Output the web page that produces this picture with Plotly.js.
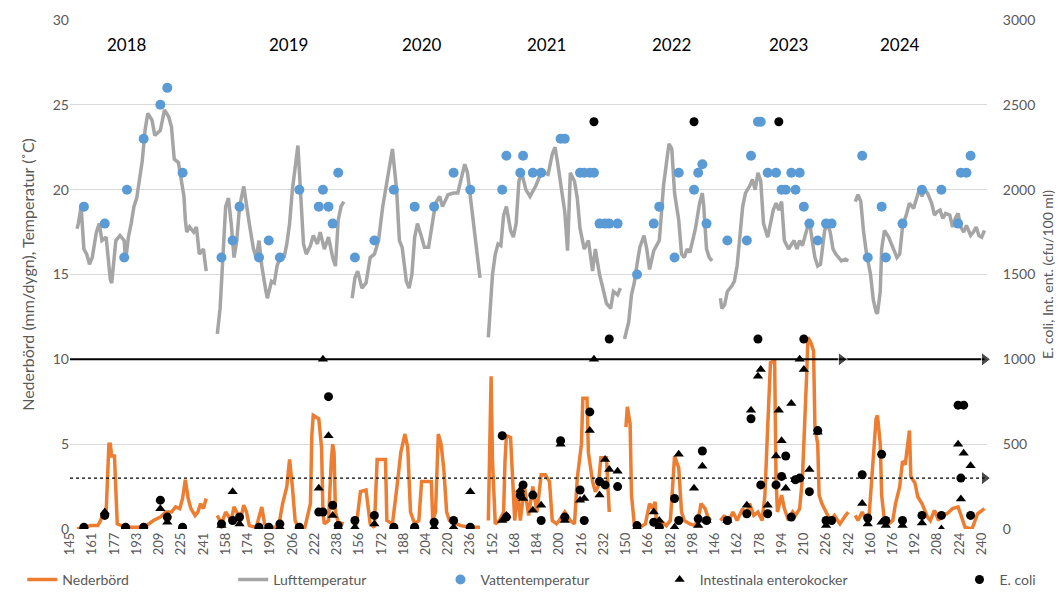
<!DOCTYPE html>
<html><head><meta charset="utf-8">
<script src="https://cdn.plot.ly/plotly-3.0.1.min.js"></script>
<style>body{margin:0;background:#fff}#chart{width:1064px;height:592px}</style>
</head><body><div id="chart"></div>
<script>
// ---- tick labels (day of year) per year ----
const years = [2018, 2019, 2020, 2021, 2022, 2023, 2024];
const ticks2018 = [145,161,177,193,209,225,241];
const ticks2019 = [158,174,190,206,222,238];
const ticks2020 = [156,172,188,204,220,236];
const ticks2021 = [152,168,184,200,216,232];
const ticks2022 = [150,166,182,198];
const ticks2023 = [146,162,178,194,210,226,242];
const ticks2024 = [160,176,192,208,224,240];

// ---- Nederbörd (mm/dygn) ----
const pr2018d = [150,155,160,165,167,169,171,172,173,174,175,177,178,179,185,195,200,205,210,214,218,221,224,226,228,230,232,235,237,239,241,243];
const pr2018v = [0,0.1,0.2,0.2,0.5,1.0,1.0,3.0,5.0,5.0,4.3,4.3,2.0,0.3,0.1,0.1,0.2,0.5,0.7,1.0,1.0,1.3,1.2,1.8,2.9,1.8,1.2,0.8,1.0,1.5,1.2,1.8];
const pr2019d = [152,155,158,162,164,166,168,171,173,175,180,184,186,190,196,199,202,204,206,208,210,215,219,220,221,223,225,227,228,229,232,234,235,236,237,239,243];
const pr2019v = [0.8,0.3,1.0,0.5,1.3,1.0,0.3,1.4,1.0,0.2,0.1,1.3,0.3,0.1,0.1,1.5,2.5,4.1,2.5,0.5,0.1,0.1,1.5,5.5,6.7,6.6,6.5,4.8,1.0,0.3,0.5,4.0,5.0,4.5,1.0,0.4,0.3];
const pr2020d = [151,154,157,161,164,167,169,175,176,180,184,186,189,191,193,196,199,201,208,209,211,213,215,217,219,221,229,236,243];
const pr2020v = [0.5,0.2,2.2,2.3,0.3,0.1,4.1,4.1,0.5,0.3,3.0,4.5,5.6,4.8,1.0,0.3,0.5,2.8,2.8,0.5,1.0,5.6,5.0,3.5,1.0,0.5,0.2,0.1,0.1];
const pr2021d = [149,151,152,154,157,160,161,162,165,167,168,170,172,175,178,181,184,187,190,193,195,198,200,204,208,211,213,216,217,220,221,224,226,228,230,234,236];
const pr2021v = [0.5,9.0,4.0,0.3,0.5,1.0,4.0,5.5,5.4,2.0,0.5,2.3,0.5,2.5,0.8,2.5,1.0,3.2,3.2,2.8,0.5,0.3,0.5,1.0,0.5,0.3,3.0,5.0,7.7,7.7,4.5,2.8,2.2,2.5,4.2,4.2,1.0];
const pr2022d = [150,151,153,154,156,160,164,167,169,171,172,175,179,182,184,185,188,190,192,196,200,203,204,207,209,211];
const pr2022v = [6.0,7.2,6.2,2.0,0.3,0.1,0.3,1.5,1.2,1.6,0.3,0.5,0.2,0.5,3.0,4.3,3.6,1.0,0.5,0.3,0.2,1.0,1.5,1.2,0.7,0.5];
const pr2023d = [150,153,155,159,162,166,168,171,174,177,180,182,184,186,189,190,191,194,196,199,202,204,207,209,212,213,215,217,218,220,221,223,226,229,232,236,240,242];
const pr2023v = [0.5,0.8,0.3,1.0,0.5,1.2,0.7,1.5,0.8,1.0,0.5,2.0,6.0,9.8,9.9,3.0,1.0,2.0,1.2,0.5,1.0,0.8,1.2,3.0,9.0,11.3,11.0,10.5,6.0,5.0,2.0,1.5,1.0,0.5,0.8,0.3,0.8,1.0];
const pr2024d = [149,151,154,157,159,161,163,164,165,167,168,170,173,176,178,181,183,185,186,188,189,192,194,197,201,203,206,209,211,215,219,223,226,228,233,237,242];
const pr2024v = [0.8,0.5,1.0,0.5,0.8,3.0,5.5,6.5,6.7,5.0,2.0,0.5,0.3,0.5,1.5,2.5,4.0,3.8,4.5,5.8,3.1,2.7,1.9,1.5,0.7,0.5,1.1,0.5,0.8,0.9,1.2,1.3,0.6,0.1,0.0,0.9,1.2];

// ---- Lufttemperatur (°C) ----
const air2018d = [150,151,153,155,157,159,161,164,166,168,171,173,174,175,178,181,184,185,187,189,191,193,195,197,199,201,204,206,210,213,216,218,220,223,225,227,228,229,231,234,236,238,241,243];
const air2018v = [17.7,18.0,19.0,16.5,16.2,15.6,16.0,17.5,18.0,17.0,17.2,15.5,14.7,14.5,17.0,17.3,17.0,15.8,17.2,18.0,19.0,19.5,20.8,21.7,23.5,24.5,24.1,23.2,23.5,24.7,24.3,23.7,21.8,21.6,20.6,19.6,18.2,17.5,17.8,17.5,17.8,16.2,16.5,15.2];
const air2019d = [152,154,158,160,162,164,166,168,171,173,175,178,180,182,184,187,188,191,193,195,198,200,202,204,206,210,212,214,216,219,221,224,226,229,232,235,237,239,241,243];
const air2019v = [11.5,13.0,19.0,19.5,18.0,16.0,17.0,19.0,20.2,19.0,18.0,16.5,16.0,17.0,15.5,14.0,13.6,14.6,14.5,15.5,16.2,16.0,16.8,18.0,20.0,22.6,20.0,16.8,16.2,16.7,17.3,16.8,17.5,16.5,17.2,16.0,15.5,18.2,19.0,19.3];
const air2020d = [151,153,155,158,161,164,167,170,173,175,178,180,183,185,187,190,192,194,196,198,201,203,206,208,211,214,216,220,224,227,232,234,238,241,243];
const air2020v = [13.6,14.8,15.2,14.2,14.5,16.0,16.2,17.0,19.0,20.0,21.3,22.4,20.0,17.0,16.6,14.6,14.2,15.0,17.2,18.0,17.2,16.6,16.6,17.6,19.2,19.6,19.0,19.7,19.8,19.8,21.5,21.0,18.2,16.0,14.8];
const air2021d = [149,150,152,154,156,158,160,162,165,167,169,171,173,176,179,183,186,189,192,195,197,199,202,204,206,208,211,213,215,218,221,224,226,229,232,234,237,239,242,244];
const air2021v = [11.3,12.5,15.0,16.2,16.8,16.7,18.5,19.0,17.6,17.2,18.0,20.5,21.0,20.0,19.6,20.2,20.8,21.0,20.9,22.1,22.5,21.5,19.8,18.7,16.4,21.0,20.5,19.5,17.7,16.5,17.0,15.2,16.5,15.0,14.0,13.3,13.0,14.0,13.8,14.2];
const air2022d = [149,152,154,156,158,160,163,165,167,170,172,174,175,177,180,181,183,184,185,188,190,192,194,196,198,200,203,205,206,208,210,212];
const air2022v = [11.2,12.2,13.8,14.5,15.6,16.6,17.3,16.5,15.3,16.4,16.7,17.0,18.0,20.2,22.1,22.7,22.4,21.0,19.8,18.2,16.2,16.0,16.5,16.3,17.0,17.7,19.2,19.8,19.0,16.5,16.0,15.8];
const air2023d = [150,151,153,155,158,160,162,164,166,168,171,173,175,177,179,181,184,186,188,190,192,194,196,199,201,203,205,207,209,212,214,216,218,220,222,225,227,229,231,233,235,237,240,242];
const air2023v = [13.6,13.0,13.2,14.0,14.3,14.6,15.5,17.5,19.0,19.8,20.2,20.6,20.0,21.0,20.5,18.0,17.2,18.0,18.8,19.2,18.8,19.3,17.0,16.5,16.8,17.0,16.5,17.0,16.7,17.5,18.2,17.0,16.0,15.5,15.6,17.6,18.0,17.5,16.5,16.2,16.0,15.8,15.9,15.8];
const air2024d = [149,151,153,155,157,160,162,164,165,167,168,170,173,175,177,179,181,183,186,188,191,193,195,197,199,201,204,206,208,210,212,214,217,219,221,223,225,227,229,232,234,236,238,240,242];
const air2024v = [19.3,19.7,19.3,17.5,16.3,15.0,13.5,12.8,12.7,14.0,16.5,17.6,17.2,16.8,16.3,16.0,16.2,17.8,18.6,19.2,18.9,19.5,20.0,19.6,20.0,19.8,19.2,18.5,18.7,18.8,18.3,18.6,18.5,17.8,18.3,18.6,17.8,17.5,17.9,17.3,17.5,17.8,17.3,17.2,17.6];

// ---- Vattentemperatur (°C) ----
const wt2018d = [155,170,184,186,198,210,215,226];
const wt2018v = [19,18,16,20,23,25,26,21];
const wt2019d = [155,163,168,182,189,197,211,225,228,232,235,239];
const wt2019v = [16,17,19,16,17,16,20,19,20,19,18,21];
const wt2020d = [153,167,181,196,210,224,236];
const wt2020v = [16,17,20,19,19,21,20];
const wt2021d = [159,162,172,174,181,187,201,204,215,218,222,225,229,233,236,242];
const wt2021v = [20,22,21,22,21,21,23,23,21,21,21,21,18,18,18,18];
const wt2022d = [158,170,174,185,188,199,202,205,208];
const wt2022v = [15,18,19,16,21,20,21,21.5,18];
const wt2023d = [155,169,172,177,179,184,190,194,197,201,204,207,210,214,220,226,230];
const wt2023v = [17,17,22,24,24,21,21,20,20,21,20,21,19,18,17,18,18];
const wt2024d = [154,158,168,171,183,197,211,223,225,229,232];
const wt2024v = [22,16,19,16,18,20,20,18,21,21,22];

// ---- Bakterier (cfu/100 ml) ----
const bac2018d = [155,170,185,198,210,215,226];
const ec2018  = [10,80,10,10,170,70,10];
const ent2018 = [10,100,10,10,120,40,10];
const bac2019d = [155,163,168,182,189,197,211,225,228,232,235,239];
const ec2019  = [30,50,70,10,10,30,10,100,100,780,140,20];
const ent2019 = [20,220,30,10,10,10,10,240,1000,550,80,10];
const bac2020d = [153,167,181,196,210,224,236];
const ec2020  = [50,80,10,10,40,50,10];
const ent2020 = [10,30,10,10,10,10,220];
const bac2021d = [159,162,172,174,181,187,201,204,215,218,222,225,229,233,236,242];
const ec2021  = [550,70,200,260,200,50,520,70,230,50,690,2400,280,260,1120,250];
const ent2021 = [50,80,230,180,110,140,500,50,170,180,580,1000,200,410,350,340];
const bac2022d = [158,170,174,185,188,199,202,205,208];
const ec2022  = [20,40,10,180,50,2400,60,460,50];
const ent2022 = [10,100,50,10,440,240,20,370,50];
const bac2023d = [155,169,172,177,179,184,190,192,194,197,201,204,207,210,214,220,226,230];
const ec2023  = [50,90,650,1120,260,90,260,2400,310,430,70,290,300,1120,220,580,50,50];
const ent2023 = [50,140,700,900,940,140,430,700,520,240,740,290,1000,940,350,570,20,null];
const bac2024d = [154,158,168,171,183,197,211,223,225,227,232];
const ec2024  = [320,65,440,50,50,80,80,730,300,730,80];
const ent2024 = [150,30,40,20,20,35,0,500,177,446,373];

// ---- gränsvärden (cfu/100 ml) ----
const limitHighYears = [2018, 2023, 2024];
const limitHighDays  = [145, 237, 242];
const limitHighValue = 1000;
const limitLowYears = [2018, 2024];
const limitLowDays  = [145, 242];
const limitLowValue = 300;

const yearLabelDays = [186, 203, 201, 191, 183, 199, 181];

// ---------- build ----------
const tickSets = [ticks2018,ticks2019,ticks2020,ticks2021,ticks2022,ticks2023,ticks2024];
const offsets = {}; const tickvals = []; const ticktext = [];
let k = 0;
years.forEach((yr,i)=>{
  offsets[yr] = 16*k - tickSets[i][0];
  tickSets[i].forEach(t=>{ tickvals.push(t+offsets[yr]); ticktext.push(String(t)); k++; });
});
function join(dArr, vArr){
  const x=[], y=[];
  years.forEach((yr,i)=>{
    if(i>0){ x.push(null); y.push(null); }
    dArr[i].forEach((d,j)=>{ x.push(d+offsets[yr]); y.push(vArr[i][j]); });
  });
  return {x,y};
}
const pr  = join([pr2018d,pr2019d,pr2020d,pr2021d,pr2022d,pr2023d,pr2024d],[pr2018v,pr2019v,pr2020v,pr2021v,pr2022v,pr2023v,pr2024v]);
const air = join([air2018d,air2019d,air2020d,air2021d,air2022d,air2023d,air2024d],[air2018v,air2019v,air2020v,air2021v,air2022v,air2023v,air2024v]);
const wt  = join([wt2018d,wt2019d,wt2020d,wt2021d,wt2022d,wt2023d,wt2024d],[wt2018v,wt2019v,wt2020v,wt2021v,wt2022v,wt2023v,wt2024v]);
const bd = [bac2018d,bac2019d,bac2020d,bac2021d,bac2022d,bac2023d,bac2024d];
const ec  = join(bd,[ec2018,ec2019,ec2020,ec2021,ec2022,ec2023,ec2024]);
const ent = join(bd,[ent2018,ent2019,ent2020,ent2021,ent2022,ent2023,ent2024]);
const limHX = limitHighYears.map((yr,i)=>limitHighDays[i]+offsets[yr]);
const limLX = limitLowYears.map((yr,i)=>limitLowDays[i]+offsets[yr]);

const traces = [
  {x:pr.x, y:pr.y, name:'Nederbörd', type:'scatter', mode:'lines', line:{color:'#ED7D31', width:3.5}, connectgaps:false, legend:'legend'},
  {x:air.x, y:air.y, name:'Lufttemperatur', type:'scatter', mode:'lines', line:{color:'#A5A5A5', width:3.5}, connectgaps:false, legend:'legend2'},
  {x:wt.x, y:wt.y, name:'Vattentemperatur', type:'scatter', mode:'markers', marker:{color:'#5B9BD5', size:10}, legend:'legend3'},
  {x:limHX, y:limHX.map(()=>limitHighValue), yaxis:'y2', type:'scatter', mode:'lines+markers', showlegend:false, hoverinfo:'skip',
   line:{color:'#000', width:2}, marker:{symbol:'triangle-right', size:[0,12,12], color:'#000'}, cliponaxis:false},
  {x:limLX, y:limLX.map(()=>limitLowValue), yaxis:'y2', type:'scatter', mode:'lines+markers', showlegend:false, hoverinfo:'skip',
   line:{color:'#000', width:1.2, dash:'dot'}, marker:{symbol:'triangle-right', size:[0,12], color:'#000'}, cliponaxis:false},
  {x:ent.x, y:ent.y, name:'Intestinala enterokocker', yaxis:'y2', type:'scatter', mode:'markers', marker:{symbol:'triangle-up', color:'#000', size:9}, legend:'legend4'},
  {x:ec.x, y:ec.y, name:'E. coli', yaxis:'y2', type:'scatter', mode:'markers', marker:{symbol:'circle', color:'#000', size:9}, legend:'legend5'}
];

const legY = -0.1;
const legBase = {orientation:'h', y:legY, yanchor:'middle', xanchor:'left', bgcolor:'rgba(0,0,0,0)', font:{size:14, color:'#595959'}};
const layout = {
  width:1064, height:592,
  margin:{l:70, r:77, t:20, b:63, autoexpand:false},
  paper_bgcolor:'#fff', plot_bgcolor:'#fff',
  font:{family:'Lato, "Open Sans", sans-serif', color:'#595959', size:14},
  showlegend:true,
  xaxis:{range:[0,659.8], tickmode:'array', tickvals:tickvals, ticktext:ticktext, tickangle:-90, automargin:false,
         showgrid:false, zeroline:false, showline:false, ticks:'', tickfont:{size:13, color:'#595959'}},
  yaxis:{range:[0,30], dtick:5, gridcolor:'#D9D9D9', gridwidth:1, zeroline:false, showline:false, ticks:'',
         tickfont:{size:14, color:'#595959'}, automargin:false,
         title:{text:'Nederbörd (mm/dygn), Temperatur (˚C)', font:{size:16, color:'#595959'}, standoff:14}},
  yaxis2:{range:[0,3000], dtick:500, overlaying:'y', side:'right', showgrid:false, zeroline:false, showline:false,
          ticks:'outside', ticklen:12, tickcolor:'rgba(0,0,0,0)', automargin:false,
          tickfont:{size:14, color:'#595959'},
          title:{text:'E. coli, Int. ent. (cfu/100 ml)', font:{size:14, color:'#595959'}, standoff:8}},
  legend: Object.assign({}, legBase, {x:-0.052}),
  legend2: Object.assign({}, legBase, {x:0.178}),
  legend3: Object.assign({}, legBase, {x:0.404}),
  legend4: Object.assign({}, legBase, {x:0.643}),
  legend5: Object.assign({}, legBase, {x:0.97}),
  annotations: years.map((yr,i)=>({x:yearLabelDays[i]+offsets[yr], y:28.58, xref:'x', yref:'y', text:String(yr),
     showarrow:false, font:{size:17, color:'#000'}}))
};
Plotly.newPlot('chart', traces, layout, {displayModeBar:false, staticPlot:true});
</script></body></html>
